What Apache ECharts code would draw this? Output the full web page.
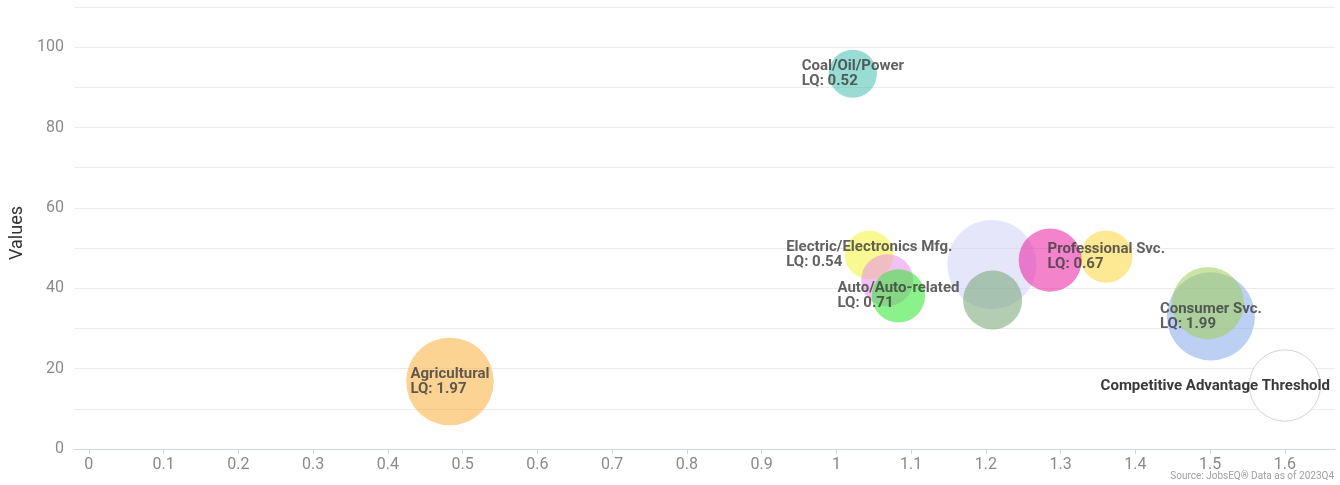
<!DOCTYPE html>
<html>
<head>
<meta charset="utf-8">
<script src="https://cdn.jsdelivr.net/npm/echarts@6/dist/echarts.min.js"></script>
<style>
html,body{margin:0;padding:0;background:#fff;}
#chart{width:1340px;height:485px;}
</style>
</head>
<body>
<div id="chart"></div>
<script>
// ---- data ----
const names    = ['Agricultural', 'Coal/Oil/Power', 'Electric/Electronics Mfg.', '', 'Auto/Auto-related', '', '', 'Professional Svc.', '', 'Consumer Svc.', ''];
const xValues  = [0.483, 1.022, 1.044, 1.068, 1.083, 1.208, 1.209, 1.361, 1.286, 1.501, 1.497];
const yValues  = [16.8, 93.4, 48.3, 42.0, 38.1, 45.9, 37.1, 47.9, 47.0, 33.0, 36.3];
const lqValues = [1.97, 0.52, 0.54, 0.66, 0.71, 2.03, 0.92, 0.67, 1.07, 1.99, 1.40];
const bubbleColors = [
  'rgba(251,176,62,0.7)', 'rgba(72,192,178,0.7)', 'rgba(245,245,62,0.7)', 'rgba(234,142,234,0.7)',
  'rgba(48,231,48,0.7)', 'rgba(211,211,248,0.7)', 'rgba(119,165,119,0.7)', 'rgba(251,214,62,0.7)',
  'rgba(233,34,162,0.7)', 'rgba(134,171,234,0.7)', 'rgba(162,207,91,0.7)'
];
const thresholdName = 'Competitive Advantage Threshold';
const thresholdX = [1.6];
const thresholdY = [15.8];
const thresholdSize = [1.37];
const yTickLabels = [0, 20, 40, 60, 80, 100];
const sourceText = 'Source: JobsEQ\u00AE Data as of 2023Q4';

// ---- chart ----
const FONT = 'Roboto, "Noto Sans", sans-serif';
const sizeOf = v => 2 * (17 + 13.6 * v[2]);

const bubbleData = names.map((n, i) => ({
  name: n,
  value: [xValues[i], yValues[i], lqValues[i]],
  itemStyle: { color: bubbleColors[i] },
  label: { show: n !== '' }
}));

const labelRich = {
  a: { align: 'left', fontFamily: FONT, fontWeight: 'bold', fontSize: 15, lineHeight: 15, color: '#3a3a3a' }
};

const chart = echarts.init(document.getElementById('chart'), null, { renderer: 'canvas' });
chart.setOption({
  animation: false,
  backgroundColor: '#ffffff',
  textStyle: { fontFamily: FONT },
  grid: { left: 72, right: 5, top: 7, bottom: 36, containLabel: false },
  xAxis: {
    type: 'value',
    min: -0.02,
    max: 1.667,
    splitNumber: 17,
    splitLine: { show: false },
    axisLine: { show: true, lineStyle: { color: '#ccd6eb', width: 1 } },
    axisTick: { show: true, length: 5, lineStyle: { color: '#ccd6eb' } },
    axisLabel: { showMinLabel: false, showMaxLabel: false, color: '#8a8a8a', fontSize: 16, margin: 8, fontFamily: FONT }
  },
  yAxis: {
    type: 'value',
    min: 0,
    max: 110,
    interval: 10,
    name: 'Values',
    nameLocation: 'middle',
    nameGap: 47,
    nameTextStyle: { fontSize: 18, color: '#333', fontFamily: FONT, padding: [0, 10, 0, 0] },
    axisLine: { show: false },
    axisTick: { show: false },
    splitLine: { show: true, lineStyle: { color: '#ebebeb', width: 1 } },
    axisLabel: {
      formatter: v => (yTickLabels.indexOf(v) >= 0 ? String(v) : ''),
      color: '#8a8a8a', fontSize: 16, margin: 10, fontFamily: FONT
    }
  },
  series: [
    {
      type: 'scatter',
      data: bubbleData,
      symbolSize: sizeOf,
      label: {
        position: 'inside',
        align: 'center',
        verticalAlign: 'middle',
        formatter: p => '{a|' + p.name + '}\n{a|LQ: ' + p.value[2].toFixed(2) + '}',
        rich: labelRich
      },
      emphasis: { disabled: true }
    },
    {
      type: 'scatter',
      data: thresholdX.map((x, i) => ({ name: thresholdName, value: [x, thresholdY[i], thresholdSize[i]] })),
      symbolSize: sizeOf,
      itemStyle: { color: '#ffffff', borderColor: '#d4d4d4', borderWidth: 1, opacity: 1 },
      label: {
        show: true,
        position: 'inside',
        align: 'right',
        verticalAlign: 'middle',
        offset: [45, 1],
        formatter: p => p.name,
        fontFamily: FONT, fontWeight: 'bold', fontSize: 15, color: '#3a3a3a'
      },
      emphasis: { disabled: true }
    }
  ],
  graphic: [
    {
      type: 'text',
      right: 6,
      top: 471,
      style: { text: sourceText, fill: '#a0a0a0', font: '10px Roboto, sans-serif' }
    }
  ]
});
</script>
</body>
</html>
